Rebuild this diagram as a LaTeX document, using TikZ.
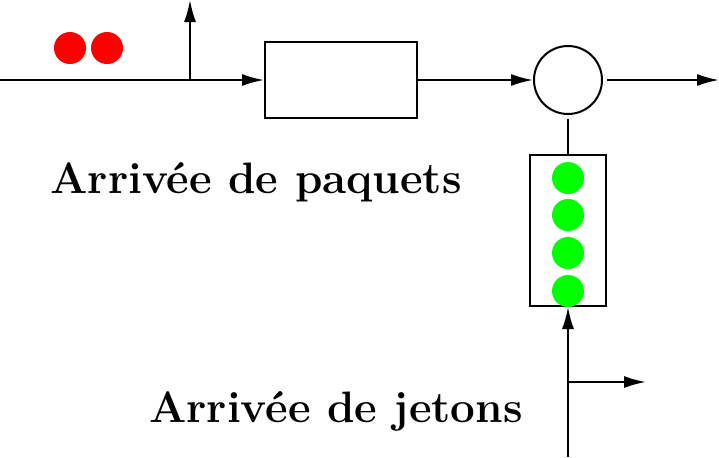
\documentclass[tikz,border=0pt]{standalone}
\usepackage{xcolor}
\usepackage{tikz}
\usetikzlibrary{arrows.meta, positioning}

\begin{document}
\begin{tikzpicture}[
    x=0.5pt, y=-0.5pt,
    line width=1pt,
    shaper/.style={
        rectangle,
        draw,
        minimum width=76pt,
        minimum height=38pt,
        inner sep=0pt
    },
    gate/.style={
        circle,
        draw,
        minimum size=34pt,
        inner sep=0pt
    },
    bucket/.style={
        rectangle,
        draw,
        minimum width=38pt,
        minimum height=75.5pt,
        inner sep=0pt
    },
    packet/.style={circle, fill=red, minimum size=16pt, inner sep=0pt},
    jeton/.style={circle, fill=green, minimum size=16pt, inner sep=0pt},
    label/.style={font=\fontsize{22}{26}\selectfont\bfseries, anchor=base, inner sep=0pt},
    line/.style={draw, -{Latex[length=11pt, width=6pt]}}
]
\useasboundingbox (0,0) rectangle (719,457);

% flux de paquets
\coordinate (in) at (0,80);
\coordinate (split) at (190,80);
\coordinate (up) at (190,0);
\node (p1) [packet] at (70,48) {};
\node (p2) [packet] at (107,48) {};
\node (shape) [shaper] at (341,80) {};
\node (gate) [gate] at (568,80) {};
\coordinate (out) at (719,80);

% seau a jetons
\node (bucket) [bucket] at (568,230.5) {};
\foreach \y [count=\i] in {178,215,253,291}
    \node (j\i) [jeton] at (568,\y) {};
\coordinate (jin) at (568,457);
\coordinate (jsplit) at (568,382);
\coordinate (jout) at (646,382);

\node (lpaq) [label] at (256,193) {Arrivée de paquets};
\node (ljet) [label] at (336,422) {Arrivée de jetons};

\path [line] (in) -- (shape.west);
\path [line] (split) -- (up);
\path [line] (shape.east) -- (gate.west);
\path [line, shorten <=2pt] (gate.east) -- (out);
\draw [shorten <=2pt] (gate.south) -- (bucket.north);
\path [line] (jin) -- (bucket.south);
\path [line] (jsplit) -- (jout);

\end{tikzpicture}
\end{document}
